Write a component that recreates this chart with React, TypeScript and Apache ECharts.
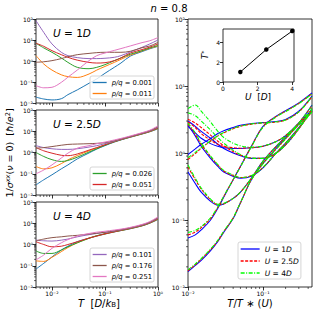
import React, { useEffect, useRef } from 'react';
import * as echarts from 'echarts';

const FONT = 'DejaVu Sans';

// ---------- left panels: x = T [D/kB] ----------
const T_GRID = [0.005, 0.007, 0.01, 0.015, 0.02, 0.03, 0.05, 0.07, 0.1, 0.15, 0.2, 0.3, 0.5, 0.7, 1.0];
const PQ = ['0.001', '0.011', '0.026', '0.051', '0.101', '0.176', '0.251'];
const PQ_COLORS = ['#1f77b4', '#ff7f0e', '#2ca02c', '#d62728', '#9467bd', '#8c564b', '#e377c2'];

// U = 1D
const U1_P001 = [0.019, 0.0155, 0.014, 0.016, 0.025, 0.042, 0.087, 0.14, 0.26, 0.5, 0.8, 1.7, 2.8, 3.8, 5.0];
const U1_P011 = [1.8, 0.72, 0.37, 0.22, 0.18, 0.165, 0.24, 0.37, 0.55, 0.86, 1.2, 1.9, 3.0, 4.0, 5.2];
const U1_P026 = [7.0, 4.2, 2.6, 1.4, 0.86, 0.5, 0.43, 0.5, 0.67, 1.04, 1.4, 2.1, 3.1, 4.2, 5.5];
const U1_P051 = [7.0, 5.0, 3.1, 2.0, 1.5, 1.1, 0.86, 0.8, 0.83, 1.04, 1.4, 2.4, 3.5, 4.6, 6.5];
const U1_P101 = [83, 23, 6.5, 2.6, 1.8, 1.45, 1.3, 1.3, 1.35, 1.5, 1.8, 2.7, 4.5, 6.5, 10];
const U1_P176 = [0.87, 0.92, 1.04, 1.3, 1.6, 2.0, 2.3, 2.5, 2.6, 2.6, 2.6, 2.9, 4.3, 5.2, 7.7];
const U1_P251 = [0.067, 0.053, 0.056, 0.096, 0.17, 0.37, 1.04, 1.8, 2.4, 3.2, 3.9, 5.2, 7.5, 9.2, 13];

// U = 2.5D
const U25_P001 = [0.03, 0.052, 0.089, 0.17, 0.26, 0.5, 0.95, 1.45, 2.1, 3.1, 3.9, 5.2, 7.4, 9.4, 13];
const U25_P011 = [0.22, 0.17, 0.19, 0.3, 0.45, 0.72, 1.2, 1.65, 2.3, 3.2, 4.0, 5.3, 7.5, 9.6, 13.5];
const U25_P026 = [1.0, 0.65, 0.46, 0.38, 0.42, 0.6, 1.05, 1.5, 2.2, 3.2, 4.0, 5.4, 7.6, 9.8, 14];
const U25_P051 = [1.7, 1.2, 0.93, 0.74, 0.71, 0.85, 1.3, 1.7, 2.3, 3.3, 4.1, 5.5, 7.8, 10, 14.5];
const U25_P101 = [2.1, 1.7, 1.5, 1.4, 1.4, 1.5, 1.8, 2.1, 2.6, 3.4, 4.2, 5.6, 8.0, 10.3, 15.5];
const U25_P176 = [1.6, 1.7, 1.9, 2.2, 2.4, 2.5, 2.6, 2.7, 2.9, 3.6, 4.3, 5.7, 8.2, 10.6, 16.5];
const U25_P251 = [0.1, 0.15, 0.26, 0.55, 0.93, 1.6, 2.1, 2.6, 3.1, 3.9, 4.6, 6.0, 8.6, 11.2, 18];

// U = 4D
const U4_P001 = [0.07, 0.13, 0.26, 0.55, 0.83, 1.35, 2.0, 2.5, 3.1, 3.9, 4.5, 5.5, 7.5, 10, 15];
const U4_P011 = [0.17, 0.16, 0.25, 0.46, 0.72, 1.2, 2.0, 2.55, 3.15, 3.95, 4.55, 5.6, 7.6, 10.2, 15.5];
const U4_P026 = [0.5, 0.38, 0.38, 0.55, 0.78, 1.2, 1.95, 2.6, 3.2, 4.0, 4.6, 5.7, 7.7, 10.4, 16];
const U4_P051 = [1.35, 1.0, 0.78, 0.83, 1.0, 1.35, 2.0, 2.5, 3.2, 4.0, 4.7, 5.8, 7.9, 10.6, 16.5];
const U4_P101 = [1.6, 1.5, 1.45, 1.6, 1.8, 2.3, 2.9, 3.3, 3.7, 4.3, 4.9, 6.0, 8.2, 11, 17.5];
const U4_P176 = [1.5, 1.8, 2.1, 2.3, 2.5, 2.7, 3.1, 3.4, 3.8, 4.4, 5.0, 6.1, 8.4, 11.3, 18.5];
const U4_P251 = [0.19, 0.32, 0.66, 1.2, 1.7, 2.5, 3.3, 3.8, 4.2, 4.8, 5.3, 6.4, 8.8, 12, 20];

const PANELS = [
  [U1_P001, U1_P011, U1_P026, U1_P051, U1_P101, U1_P176, U1_P251],
  [U25_P001, U25_P011, U25_P026, U25_P051, U25_P101, U25_P176, U25_P251],
  [U4_P001, U4_P011, U4_P026, U4_P051, U4_P101, U4_P176, U4_P251],
];
const PANEL_LABELS = ['1', '2.5', '4'];

// ---------- right panel: x = T / T*(U) ----------
const X_SCALED = [0.01, 0.0125, 0.015, 0.02, 0.025, 0.03, 0.04, 0.05, 0.07, 0.1, 0.15, 0.2, 0.3, 0.45];

const R1_A = [0.017, 0.021, 0.025, 0.035, 0.048, 0.066, 0.105, 0.18, 0.4, 0.7, 1.17, 1.66, 2.7, 4.2];
const R1_B = [0.054, 0.06, 0.071, 0.1, 0.15, 0.22, 0.4, 0.63, 1.26, 2.5, 3.55, 4.27, 5.6, 7.9];
const R1_C = [0.52, 0.35, 0.26, 0.19, 0.166, 0.174, 0.21, 0.26, 0.42, 0.76, 1.26, 1.74, 2.8, 4.4];
const R1_D = [2.6, 1.8, 1.26, 0.83, 0.63, 0.52, 0.45, 0.42, 0.45, 0.6, 1.0, 1.41, 2.4, 4.3];
const R1_E = [3.0, 2.5, 2.1, 1.66, 1.35, 1.17, 1.0, 0.91, 0.83, 0.83, 1.0, 1.32, 2.3, 4.6];
const R1_F = [2.5, 2.0, 1.66, 1.38, 1.26, 1.2, 1.17, 1.17, 1.2, 1.26, 1.48, 1.82, 2.8, 5.2];
const R1_G = [0.95, 1.15, 1.35, 1.65, 1.95, 2.15, 2.4, 2.6, 2.75, 2.85, 2.95, 3.16, 4.2, 7.1];

const R25_A = [0.0175, 0.0215, 0.026, 0.036, 0.049, 0.067, 0.107, 0.18, 0.4, 0.7, 1.15, 1.63, 2.65, 4.1];
const R25_B = [0.06, 0.066, 0.077, 0.105, 0.155, 0.225, 0.4, 0.63, 1.25, 2.45, 3.5, 4.2, 5.5, 7.7];
const R25_C = [0.62, 0.4, 0.29, 0.2, 0.17, 0.175, 0.21, 0.26, 0.42, 0.75, 1.25, 1.72, 2.75, 4.35];
const R25_D = [2.7, 1.9, 1.35, 0.88, 0.66, 0.54, 0.46, 0.43, 0.46, 0.61, 1.0, 1.4, 2.35, 4.2];
const R25_E = [3.2, 2.8, 2.4, 1.85, 1.5, 1.28, 1.05, 0.93, 0.84, 0.83, 1.0, 1.32, 2.3, 4.6];
const R25_F = [2.9, 2.4, 1.95, 1.55, 1.35, 1.25, 1.2, 1.18, 1.2, 1.26, 1.48, 1.82, 2.8, 5.1];
const R25_G = [0.8, 0.98, 1.18, 1.5, 1.8, 2.0, 2.3, 2.5, 2.7, 2.8, 2.9, 3.1, 4.1, 6.9];

const R4_A = [0.018, 0.022, 0.0265, 0.037, 0.05, 0.068, 0.108, 0.182, 0.4, 0.69, 1.14, 1.62, 2.62, 4.05];
const R4_B = [0.065, 0.07, 0.08, 0.108, 0.157, 0.227, 0.4, 0.62, 1.24, 2.42, 3.45, 4.15, 5.45, 7.6];
const R4_C = [0.66, 0.42, 0.3, 0.205, 0.172, 0.177, 0.21, 0.26, 0.42, 0.75, 1.25, 1.72, 2.75, 4.35];
const R4_D = [2.8, 2.0, 1.4, 0.9, 0.67, 0.55, 0.47, 0.43, 0.46, 0.61, 1.0, 1.4, 2.35, 4.2];
const R4_E = [4.0, 3.6, 3.0, 2.2, 1.7, 1.4, 1.1, 0.95, 0.84, 0.83, 1.0, 1.32, 2.3, 4.6];
const R4_F = [4.6, 5.2, 4.2, 2.9, 2.1, 1.7, 1.4, 1.28, 1.22, 1.27, 1.48, 1.82, 2.8, 5.1];
const R4_G = [0.85, 1.02, 1.2, 1.52, 1.82, 2.02, 2.32, 2.52, 2.72, 2.82, 2.92, 3.1, 4.1, 6.9];

const RIGHT_SETS = [
  { name: 'U = 1D', color: '#0000ff', dash: 'solid' as any, curves: [R1_A, R1_B, R1_C, R1_D, R1_E, R1_F, R1_G] },
  { name: 'U = 2.5D', color: '#ff0000', dash: [3, 1.5] as any, curves: [R25_A, R25_B, R25_C, R25_D, R25_E, R25_F, R25_G] },
  { name: 'U = 4D', color: '#00ff00', dash: [4, 1.5, 1, 1.5] as any, curves: [R4_A, R4_B, R4_C, R4_D, R4_E, R4_F, R4_G] },
];

// ---------- inset ----------
const U_VALUES = [1, 2.5, 4];
const T_STAR = [1.0, 3.25, 5.1];

const SUP: Record<string, string> = { '-': '⁻', '0': '⁰', '1': '¹', '2': '²', '3': '³', '4': '⁴', '5': '⁵', '6': '⁶', '7': '⁷', '8': '⁸', '9': '⁹' };
function logLabel(v: number) {
  const l = Math.log10(v);
  const e = Math.round(l);
  if (Math.abs(l - e) > 1e-6) return '';
  return '10' + String(e).split('').map((c) => SUP[c]).join('');
}

function minorTicks(min: number, max: number) {
  const out: number[] = [];
  for (let d = Math.floor(Math.log10(min)); d <= Math.ceil(Math.log10(max)); d++) {
    for (let k = 2; k <= 9; k++) {
      const v = k * Math.pow(10, d);
      if (v >= min * 0.999 && v <= max * 1.001) out.push(v);
    }
  }
  return out;
}

const ITAL = { fontStyle: 'italic', fontFamily: FONT };

export default function App() {
  const ref = useRef<HTMLDivElement>(null);
  useEffect(() => {
    if (!ref.current) return;
    const chart = echarts.init(ref.current, undefined, { renderer: 'svg' });

    const gridBase = { show: true, borderColor: '#000', borderWidth: 0.8, containLabel: false };
    const grids = [
      { ...gridBase, left: 36, top: 19, width: 122, height: 84 },
      { ...gridBase, left: 36, top: 110, width: 122, height: 85 },
      { ...gridBase, left: 36, top: 202, width: 122, height: 85 },
      { ...gridBase, left: 188, top: 19, width: 124, height: 268 },
      { ...gridBase, left: 223, top: 29, width: 71, height: 53, backgroundColor: '#fff', z: 10 },
    ];

    const tickStyle = { show: true, length: 3.5, lineStyle: { color: '#000', width: 0.8 } };
    const labelStyle = { fontSize: 6, fontFamily: FONT, color: '#000', margin: 3 };

    const logAxis = (gi: number, min: number, max: number, majors: number[], showLabel: boolean) => ({
      type: 'log', logBase: 10, gridIndex: gi, min, max,
      axisLine: { show: false }, splitLine: { show: false },
      axisTick: { ...tickStyle, customValues: majors },
      axisLabel: { ...labelStyle, show: showLabel, formatter: logLabel, customValues: majors },
    });

    const xMajLeft = [0.01, 0.1, 1];
    const yMaj = [0.01, 0.1, 1, 10, 100];
    const xAxis: any[] = [
      logAxis(0, 0.005, 1, xMajLeft, false),
      logAxis(1, 0.005, 1, xMajLeft, false),
      logAxis(2, 0.005, 1, xMajLeft, true),
      logAxis(3, 0.01, 0.45, [0.01, 0.1], true),
      {
        type: 'value', gridIndex: 4, min: 0, max: 4.1, interval: 2,
        axisLine: { show: false }, splitLine: { show: false },
        axisTick: { ...tickStyle, length: 3, customValues: [0, 2, 4] },
        axisLabel: { ...labelStyle, customValues: [0, 2, 4], formatter: (v: number) => (v % 2 === 0 ? String(v) : '') },
      },
    ];
    const yAxis: any[] = [
      logAxis(0, 0.01, 100, yMaj, true),
      logAxis(1, 0.01, 100, yMaj, true),
      logAxis(2, 0.01, 100, yMaj, true),
      logAxis(3, 0.01, 100, yMaj, true),
      {
        type: 'value', gridIndex: 4, min: 0, max: 5.3, interval: 2,
        axisLine: { show: false }, splitLine: { show: false },
        axisTick: { ...tickStyle, length: 3, customValues: [0, 2, 4] },
        axisLabel: { ...labelStyle, customValues: [0, 2, 4], formatter: (v: number) => (v % 2 === 0 ? String(v) : '') },
      },
    ];

    const series: any[] = [];

    PANELS.forEach((curves, gi) => {
      curves.forEach((arr, j) => {
        series.push({
          type: 'line', name: 'p/q = ' + PQ[j], xAxisIndex: gi, yAxisIndex: gi,
          data: T_GRID.map((t, k) => [t, arr[k]]),
          symbol: 'none', showSymbol: false, smooth: 0.35,
          lineStyle: { width: 1, color: PQ_COLORS[j] }, itemStyle: { color: PQ_COLORS[j] },
          silent: true, z: 2,
        });
      });
    });

    RIGHT_SETS.forEach((set, si) => {
      set.curves.forEach((arr) => {
        series.push({
          type: 'line', name: set.name, xAxisIndex: 3, yAxisIndex: 3,
          data: X_SCALED.map((x, k) => [x, arr[k]]),
          symbol: 'none', showSymbol: false, smooth: 0.35,
          lineStyle: { width: 1.1, color: set.color, type: set.dash }, itemStyle: { color: set.color },
          silent: true, z: 2 + si,
        });
      });
    });

    series.push({
      type: 'line', xAxisIndex: 4, yAxisIndex: 4,
      data: U_VALUES.map((u, i) => [u, T_STAR[i]]),
      symbol: 'circle', symbolSize: 4.5, showSymbol: true,
      lineStyle: { width: 1, color: '#000' }, itemStyle: { color: '#000' }, silent: true, z: 20,
    });

    const minorSeries = (gi: number, axis: 'x' | 'y', vals: number[], other: number) => ({
      type: 'custom', xAxisIndex: gi, yAxisIndex: gi, silent: true, clip: false, z: 5,
      data: vals.map((v) => (axis === 'x' ? [v, other] : [other, v])),
      renderItem: (params: any, api: any) => {
        const cs = params.coordSys;
        const p = api.coord([api.value(0), api.value(1)]);
        const shape = axis === 'x'
          ? { x1: p[0], y1: cs.y + cs.height, x2: p[0], y2: cs.y + cs.height + 2 }
          : { x1: cs.x - 2, y1: p[1], x2: cs.x, y2: p[1] };
        return { type: 'line', shape, style: { stroke: '#000', lineWidth: 0.6 } };
      },
    });
    const mxLeft = minorTicks(0.005, 1);
    const myAll = minorTicks(0.01, 100);
    for (let gi = 0; gi < 3; gi++) {
      series.push(minorSeries(gi, 'x', mxLeft, 1));
      series.push(minorSeries(gi, 'y', myAll, 0.1));
    }
    series.push(minorSeries(3, 'x', minorTicks(0.01, 0.45), 1));
    series.push(minorSeries(3, 'y', myAll, 0.1));

    const legendBase = {
      orient: 'vertical', itemWidth: 14, itemHeight: 7, itemGap: 4,
      padding: [3, 2, 2, 2], backgroundColor: 'rgba(255,255,255,0.8)',
      borderColor: '#cccccc', borderWidth: 0.8, borderRadius: 2,
      selectedMode: false,
      itemStyle: { opacity: 0, borderWidth: 0 },
      lineStyle: { width: 1.3 },
      textStyle: { fontSize: 6.8, fontFamily: FONT, color: '#000', rich: { i: { ...ITAL, fontSize: 6.8 } } },
      formatter: (name: string) => name.replace('p/q', '{i|p/q}'),
    };
    const legend = [
      { ...legendBase, left: 90, top: 76, data: ['p/q = 0.001', 'p/q = 0.011'] },
      { ...legendBase, left: 90, top: 167, data: ['p/q = 0.026', 'p/q = 0.051'] },
      { ...legendBase, left: 90, top: 248, data: ['p/q = 0.101', 'p/q = 0.176', 'p/q = 0.251'] },
      {
        ...legendBase, left: 238, top: 242, itemWidth: 19, itemHeight: 8, data: ['U = 1D', 'U = 2.5D', 'U = 4D'],
        textStyle: { fontSize: 7.5, fontFamily: FONT, color: '#000', rich: { i: { ...ITAL, fontSize: 7.5 } } },
        formatter: (name: string) => name.replace(/^U/, '{i|U}').replace(/D$/, '{i|D}'),
      },
    ];

    const txt = (x: number, y: number, text: string, size: number, align = 'left', rotation = 0) => ({
      type: 'text', x, y, rotation, silent: true, z: 30,
      style: {
        text, fill: '#000', fontSize: size, fontFamily: FONT, align, verticalAlign: 'middle',
        rich: {
          i: { ...ITAL, fontSize: size },
          s: { ...ITAL, fontSize: size * 0.7, verticalAlign: 'top', lineHeight: size * 0.7 },
          sr: { fontFamily: FONT, fontSize: size * 0.7, verticalAlign: 'top', lineHeight: size * 0.7 },
          b: { fontFamily: FONT, fontSize: size * 0.7, verticalAlign: 'bottom', lineHeight: size * 0.7 },
        },
      },
    });

    const graphic = [
      txt(169, 8, '{i|n} = 0.8', 10, 'center'),
      ...PANEL_LABELS.map((u, i) => txt(53, [33, 124, 216][i], '{i|U} = ' + u + '{i|D}', 10.5)),
      txt(9, 153, '1/{i|σ}{s|xx}({i|ν} = 0)  [{i|ħ}/{i|e}{sr|2}]', 9.5, 'center', Math.PI / 2),
      txt(99, 303, '{i|T}  [{i|D}/{i|k}{b|B}]', 10, 'center'),
      txt(250, 303, '{i|T}/{i|T} ∗ ({i|U})', 10, 'center'),
      txt(258, 97, '{i|U}  [{i|D}]', 9, 'center'),
      txt(205, 55, '{i|T}{sr|*}', 9, 'center', Math.PI / 2),
    ];

    chart.setOption({
      animation: false,
      backgroundColor: '#fff',
      grid: grids,
      xAxis,
      yAxis,
      legend,
      series,
      graphic,
    });
    return () => chart.dispose();
  }, []);
  return <div ref={ref} style={{ position: 'fixed', left: 0, top: 0, width: 319, height: 315 }} />;
}
